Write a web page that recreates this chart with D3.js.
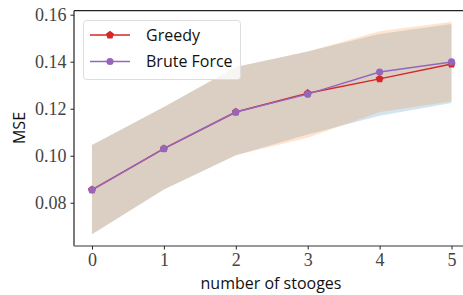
<!DOCTYPE html>
<html><head><meta charset="utf-8">
<script src="https://cdn.jsdelivr.net/npm/d3@7"></script>
<style>body{margin:0;background:#fff}svg{display:block}</style>
</head><body>
<script>
const stooges = [0, 1, 2, 3, 4, 5];
const greedyMean = [0.0855, 0.1030, 0.1186, 0.1266, 0.1327, 0.1390];
const greedyLow  = [0.0666, 0.0856, 0.1002, 0.1076, 0.1186, 0.1232];
const greedyHigh = [0.1046, 0.1207, 0.1377, 0.1443, 0.1530, 0.1570];
const bruteMean  = [0.0855, 0.1030, 0.1186, 0.1262, 0.1356, 0.1399];
const bruteLow   = [0.0666, 0.0856, 0.1002, 0.1090, 0.1170, 0.1224];
const bruteHigh  = [0.1046, 0.1207, 0.1377, 0.1443, 0.1518, 0.1560];
const yTicks = [0.08, 0.10, 0.12, 0.14, 0.16];
const xTicks = [0, 1, 2, 3, 4, 5];

const W = 463, H = 295;
const m = {left: 74, top: 10.7, right: 469.5, bottom: 246};
const svg = d3.select("body").append("svg").attr("width", W).attr("height", H);
const x = d3.scaleLinear().domain([-0.25, 5.25]).range([m.left, m.right]);
const y = d3.scaleLinear().domain([0.0616, 0.1617]).range([m.bottom, m.top]);

const serif = "Liberation Serif, DejaVu Serif, serif";
const sans = "Open Sans, DejaVu Sans, sans-serif";

const area = (lo, hi) => d3.area().x((d, i) => x(stooges[i])).y0((d, i) => y(lo[i])).y1((d, i) => y(hi[i]))(stooges);
svg.append("path").attr("d", area(bruteLow, bruteHigh)).attr("fill", "#1f77b4").attr("fill-opacity", 0.2);
svg.append("path").attr("d", area(greedyLow, greedyHigh)).attr("fill", "#ff7f0e").attr("fill-opacity", 0.2);

const line = vals => d3.line().x((d, i) => x(stooges[i])).y((d, i) => y(vals[i]))(stooges);
function pent(cx, cy, r) {
  const pts = d3.range(5).map(k => {
    const a = -Math.PI / 2 + k * 2 * Math.PI / 5;
    return [cx + r * Math.cos(a), cy + r * Math.sin(a)];
  });
  return "M" + pts.map(p => p.join(",")).join("L") + "Z";
}
const red = "#d62728", purple = "#9467bd";
svg.append("path").attr("d", line(greedyMean)).attr("fill", "none").attr("stroke", red).attr("stroke-width", 1.5);
svg.selectAll(".gm").data(stooges).enter().append("path")
  .attr("d", (d, i) => pent(x(d), y(greedyMean[i]), 4.2)).attr("fill", red);
svg.append("path").attr("d", line(bruteMean)).attr("fill", "none").attr("stroke", purple).attr("stroke-width", 1.5);
svg.selectAll(".bm").data(stooges).enter().append("circle")
  .attr("cx", d => x(d)).attr("cy", (d, i) => y(bruteMean[i])).attr("r", 3.6).attr("fill", purple);

// spines
svg.append("line").attr("x1", m.left).attr("x2", W).attr("y1", m.top).attr("y2", m.top).attr("stroke", "#222").attr("stroke-width", 1.2);
svg.append("line").attr("x1", m.left).attr("x2", m.left).attr("y1", m.top).attr("y2", m.bottom).attr("stroke", "#222").attr("stroke-width", 1.2);

// axes
const xa = svg.append("g").attr("transform", `translate(0,${m.bottom})`)
  .call(d3.axisBottom(x).tickValues(xTicks).tickSize(3.5).tickPadding(4).tickFormat(d3.format("d")));
xa.attr("font-family", null).attr("font-size", null);
xa.select(".domain").attr("stroke", "#777").attr("stroke-width", 1.5).attr("d", `M${m.left},0H${W}`);
xa.selectAll(".tick line").attr("stroke", "#222");
xa.selectAll("text").style("font-family", serif).style("font-size", "18px").attr("fill", "#444");

const ya = svg.append("g").attr("transform", `translate(${m.left},0)`)
  .call(d3.axisLeft(y).tickValues(yTicks).tickSize(3.5).tickPadding(4).tickFormat(d3.format(".2f")));
ya.attr("font-family", null).attr("font-size", null);
ya.select(".domain").remove();
ya.selectAll(".tick line").attr("stroke", "#222");
ya.selectAll("text").style("font-family", serif).style("font-size", "18px").attr("fill", "#444");

svg.append("text").attr("x", 271).attr("y", 289).attr("text-anchor", "middle")
  .style("font-family", sans).style("font-size", "16px").attr("fill", "#111").text("number of stooges");
svg.append("text").attr("transform", "translate(25,128) rotate(-90)").attr("text-anchor", "middle")
  .style("font-family", sans).style("font-size", "16px").attr("fill", "#111").text("MSE");

// legend
const lg = svg.append("g");
lg.append("rect").attr("x", 83.5).attr("y", 20.5).attr("width", 157).attr("height", 59).attr("rx", 3)
  .attr("fill", "#fff").attr("fill-opacity", 0.8).attr("stroke", "#ddd").attr("stroke-width", 1);
const items = [{name: "Greedy", c: red, pent: true, y: 35}, {name: "Brute Force", c: purple, pent: false, y: 61.5}];
items.forEach(it => {
  lg.append("line").attr("x1", 90).attr("x2", 130).attr("y1", it.y).attr("y2", it.y).attr("stroke", it.c).attr("stroke-width", 1.5);
  if (it.pent) lg.append("path").attr("d", pent(110, it.y, 4.2)).attr("fill", it.c);
  else lg.append("circle").attr("cx", 110).attr("cy", it.y).attr("r", 3.6).attr("fill", it.c);
  lg.append("text").attr("x", 146).attr("y", it.y + 5.5).style("font-family", sans).style("font-size", "16px")
    .attr("fill", "#111").text(it.name);
});
</script>
</body></html>
